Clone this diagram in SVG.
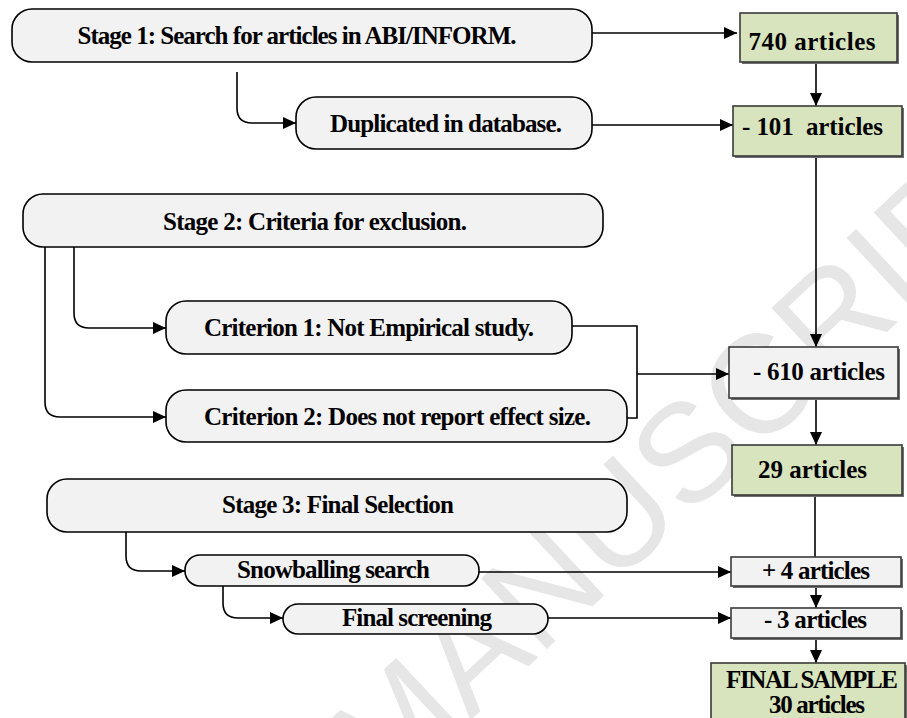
<svg xmlns="http://www.w3.org/2000/svg" width="907" height="718" viewBox="0 0 907 718">
<defs>
<marker id="arr" markerUnits="userSpaceOnUse" markerWidth="13" markerHeight="12" refX="13" refY="6" orient="auto">
<path d="M0,0 L13,6 L0,12 z" fill="#000"/>
</marker>
<style>
.rb{fill:#f2f2f2;stroke:#000;stroke-width:1.6}
.sq{stroke:#3a3a3a;stroke-width:1.6}
.sh{fill:#6e6e6e}
.gr{fill:#d7e4bd}
.gy{fill:#f2f2f2}
.t{font-family:"Liberation Serif","Times New Roman",serif;font-weight:bold;font-size:25px;fill:#000;text-anchor:middle}
.c{fill:none;stroke:#000;stroke-width:1.6}
.wm{font-family:"Liberation Sans",Arial,sans-serif;font-size:140px;fill:#e6e6e6}
</style>
</defs>
<rect width="907" height="718" fill="#fff"/>
<text class="wm" x="385" y="800" transform="rotate(-43 385 800)">MANUSCRIPT</text>

<g id="connectors">
<path class="c" d="M592,33 H737" marker-end="url(#arr)"/>
<path class="c" d="M237,72 V108 Q237,123 252,123 H296" marker-end="url(#arr)"/>
<path class="c" d="M816,62 V106" marker-end="url(#arr)"/>
<path class="c" d="M592,125 H733" marker-end="url(#arr)"/>
<path class="c" d="M816,156 V347" marker-end="url(#arr)"/>
<path class="c" d="M74,247 V313 Q74,328 89,328 H166" marker-end="url(#arr)"/>
<path class="c" d="M45,247 V402 Q45,417 60,417 H166" marker-end="url(#arr)"/>
<path class="c" d="M572,326 H637 V418 H627"/>
<path class="c" d="M637,374 H729" marker-end="url(#arr)"/>
<path class="c" d="M816,398 V445" marker-end="url(#arr)"/>
<path class="c" d="M815,495 V557"/>
<path class="c" d="M816,586 V608" marker-end="url(#arr)"/>
<path class="c" d="M816,638 V663" marker-end="url(#arr)"/>
<path class="c" d="M126,532 V556 Q126,571 141,571 H185" marker-end="url(#arr)"/>
<path class="c" d="M223,586 V603 Q223,618 238,618 H283" marker-end="url(#arr)"/>
<path class="c" d="M479,572 H731" marker-end="url(#arr)"/>
<path class="c" d="M548,618 H731" marker-end="url(#arr)"/>
</g>

<g id="stage1">
<rect class="rb" x="12" y="9" width="580" height="53" rx="20"/>
<text class="t" x="297" y="44" textLength="439">Stage 1: Search for articles in ABI/INFORM.</text>
</g>
<g id="n740">
<rect class="sh" x="742" y="15" width="157" height="49"/>
<rect class="gr sq" x="740" y="13" width="157" height="49"/>
<text class="t" x="812" y="50" textLength="127">740 articles</text>
</g>
<g id="duplicated">
<rect class="rb" x="296" y="97" width="296" height="52" rx="20"/>
<text class="t" x="446" y="132" textLength="232">Duplicated in database.</text>
</g>
<g id="n101">
<rect class="sh" x="735" y="108" width="169" height="50"/>
<rect class="gr sq" x="733" y="106" width="169" height="50"/>
<text class="t" x="812.5" y="135" textLength="141" xml:space="preserve">- 101  articles</text>
</g>
<g id="stage2">
<rect class="rb" x="23" y="194" width="580" height="53" rx="20"/>
<text class="t" x="315" y="230" textLength="304">Stage 2: Criteria for exclusion.</text>
</g>
<g id="crit1">
<rect class="rb" x="166" y="301" width="406" height="53" rx="20"/>
<text class="t" x="369" y="336" textLength="330">Criterion 1: Not Empirical study.</text>
</g>
<g id="crit2">
<rect class="rb" x="166" y="390" width="461" height="52" rx="20"/>
<text class="t" x="397.5" y="425" textLength="387">Criterion 2: Does not report effect size.</text>
</g>
<g id="n610">
<rect class="sh" x="731" y="349" width="169" height="51"/>
<rect class="gy sq" x="729" y="347" width="169" height="51"/>
<text class="t" x="819" y="380" textLength="132">- 610 articles</text>
</g>
<g id="n29">
<rect class="sh" x="734" y="447" width="170" height="50"/>
<rect class="gr sq" x="732" y="445" width="170" height="50"/>
<text class="t" x="812.5" y="478" textLength="109">29 articles</text>
</g>
<g id="stage3">
<rect class="rb" x="47" y="479" width="580" height="53" rx="20"/>
<text class="t" x="338" y="513" textLength="232">Stage 3: Final Selection</text>
</g>
<g id="snowball">
<rect class="rb" x="185" y="555" width="294" height="31" rx="15"/>
<text class="t" x="333.5" y="578" textLength="193">Snowballing search</text>
</g>
<g id="screening">
<rect class="rb" x="283" y="604" width="265" height="30" rx="15"/>
<text class="t" x="417" y="626" textLength="150">Final screening</text>
</g>
<g id="plus4">
<rect class="sh" x="733" y="559" width="170" height="29"/>
<rect class="gy sq" x="731" y="557" width="170" height="29"/>
<text class="t" x="816" y="579" textLength="108">+ 4 articles</text>
</g>
<g id="minus3">
<rect class="sh" x="733" y="610" width="170" height="30"/>
<rect class="gy sq" x="731" y="608" width="170" height="30"/>
<text class="t" x="815.5" y="628" textLength="103">- 3 articles</text>
</g>
<g id="final">
<rect class="sh" x="713" y="665" width="194" height="60"/>
<rect class="gr sq" x="711" y="663" width="194" height="60"/>
<text class="t" x="812" y="688" textLength="172">FINAL SAMPLE</text>
<text class="t" x="817" y="713" textLength="96">30 articles</text>
</g>
</svg>
